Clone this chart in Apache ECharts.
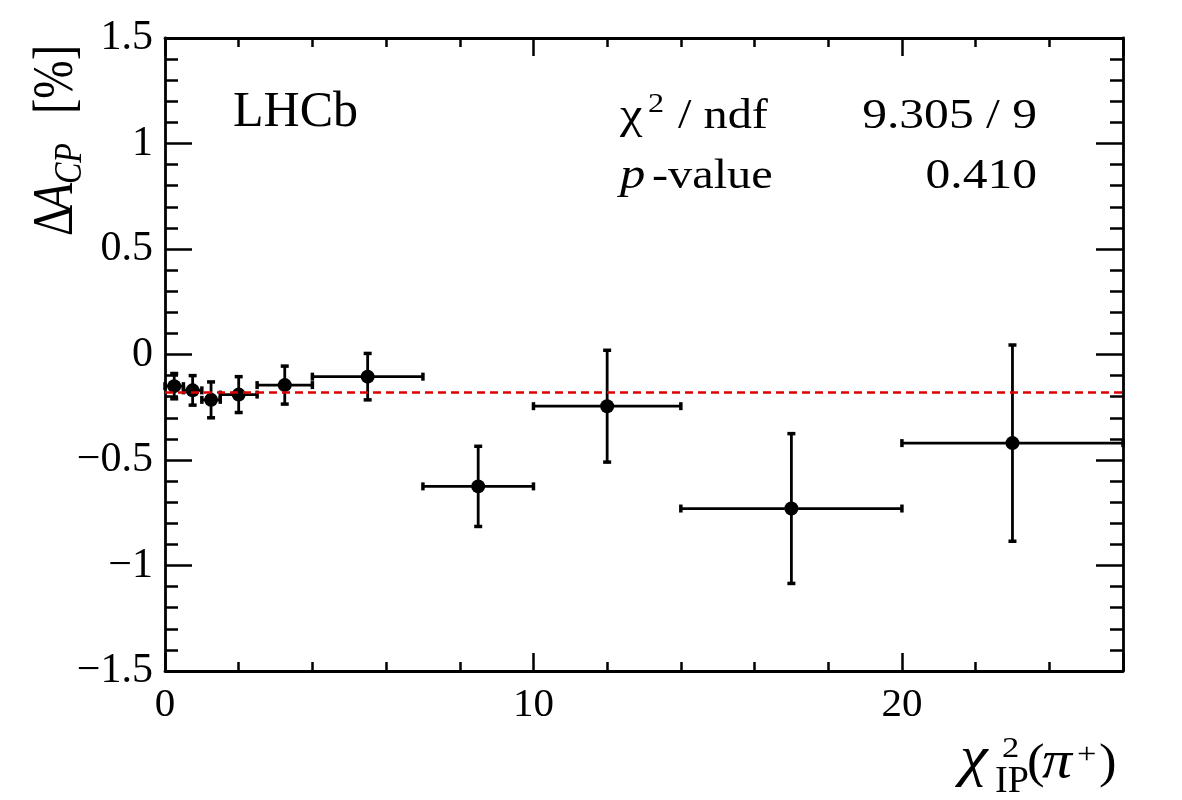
<!DOCTYPE html>
<html>
<head>
<meta charset="utf-8">
<script src="https://cdn.jsdelivr.net/npm/echarts@6/dist/echarts.min.js"></script>
<style>
  html, body { margin: 0; padding: 0; background: #fff; }
  #chart { width: 1182px; height: 800px; }
</style>
</head>
<body>
<div id="chart"></div>
<script>
// bin centres, bin edges and Delta A_CP values [%]
const xCentres = [0.25, 0.75, 1.25, 2.0, 3.25, 5.5, 8.5, 12, 17, 23];
const xLow     = [0, 0.5, 1.0, 1.5, 2.5, 4, 7, 10, 14, 20];
const xHigh    = [0.5, 1.0, 1.5, 2.5, 4, 7, 10, 14, 20, 26];
const dAcp     = [-0.15, -0.17, -0.215, -0.19, -0.145, -0.105, -0.625, -0.245, -0.73, -0.42];
const dAcpErr  = [0.06, 0.07, 0.085, 0.085, 0.09, 0.11, 0.19, 0.265, 0.355, 0.465];
const fitValue = -0.18;

const xTicks = [0, 10, 20];
const yTicks = [-1.5, -1, -0.5, 0, 0.5, 1, 1.5];

const FONT = '"Liberation Serif", "DejaVu Serif", serif';
const minus = v => String(v).replace('-', '\u2212');

const points = xCentres.map((x, i) => [x, dAcp[i], xLow[i], xHigh[i], dAcp[i] - dAcpErr[i], dAcp[i] + dAcpErr[i]]);

const chart = echarts.init(document.getElementById('chart'));

// baseline-positioned text helper
function txt(x, base, text, size, o = {}) {
  return {
    type: 'text',
    x: x,
    y: base - 0.3 * size,
    scaleX: o.sx || 1,
    style: {
      text: text,
      font: (o.italic ? 'italic ' : '') + size + 'px ' + FONT,
      fill: '#000',
      textAlign: o.align || 'left',
      textVerticalAlign: 'middle'
    }
  };
}

const lineOn = { show: true, onZero: false, lineStyle: { color: '#000', width: 2.8 } };
const lineOff = { show: false, onZero: false };
const tickStyle = { color: '#000', width: 2.5 };

function xAx(position, interval, len, showLine, labels) {
  return {
    type: 'value', min: 0, max: 26, interval: interval, position: position,
    axisLine: showLine ? lineOn : lineOff,
    axisTick: { show: true, inside: true, length: len, lineStyle: tickStyle },
    axisLabel: labels ? {
      show: true, margin: 14, color: '#000', fontSize: 41, fontFamily: FONT,
      formatter: v => (xTicks.indexOf(v) >= 0 ? minus(v) : '')
    } : { show: false },
    splitLine: { show: false }
  };
}

function yAx(position, labels) {
  return {
    type: 'value', min: -1.5, max: 1.5, interval: 0.5, position: position,
    axisLine: lineOn,
    axisTick: { show: true, inside: true, length: 27, lineStyle: tickStyle },
    minorTick: { show: true, splitNumber: 5, length: 13, lineStyle: tickStyle },
    axisLabel: labels ? {
      show: true, margin: 12, color: '#000', fontSize: 42, fontFamily: FONT,
      formatter: v => (yTicks.indexOf(v) >= 0 ? minus(v) : '')
    } : { show: false },
    splitLine: { show: false }
  };
}

const option = {
  animation: false,
  backgroundColor: '#fff',
  grid: { left: 165, right: 59, top: 38, bottom: 129 },
  xAxis: [
    xAx('bottom', 2, 9, true, true),
    xAx('bottom', 10, 18, false, false),
    xAx('top', 2, 9, true, false),
    xAx('top', 10, 18, false, false)
  ],
  yAxis: [yAx('left', true), yAx('right', false)],
  series: [
    {
      type: 'custom',
      xAxisIndex: 0, yAxisIndex: 0,
      data: points,
      encode: { x: 0, y: 1 },
      z: 2,
      renderItem: (params, api) => {
        const y = api.value(1);
        const l = api.coord([api.value(2), y]);
        const r = api.coord([api.value(3), y]);
        const lo = api.coord([api.value(0), api.value(4)]);
        const hi = api.coord([api.value(0), api.value(5)]);
        const st = { stroke: '#000', lineWidth: 2.8 };
        const cap = { stroke: '#000', lineWidth: 3.5 };
        const c = 4;
        return {
          type: 'group',
          children: [
            { type: 'line', shape: { x1: l[0], y1: l[1], x2: r[0], y2: r[1] }, style: st },
            { type: 'line', shape: { x1: lo[0], y1: lo[1], x2: hi[0], y2: hi[1] }, style: st },
            { type: 'line', shape: { x1: l[0], y1: l[1] - c, x2: l[0], y2: l[1] + c }, style: cap },
            { type: 'line', shape: { x1: r[0], y1: r[1] - c, x2: r[0], y2: r[1] + c }, style: cap },
            { type: 'line', shape: { x1: lo[0] - c, y1: lo[1], x2: lo[0] + c, y2: lo[1] }, style: cap },
            { type: 'line', shape: { x1: hi[0] - c, y1: hi[1], x2: hi[0] + c, y2: hi[1] }, style: cap }
          ]
        };
      }
    },
    {
      type: 'line',
      data: [],
      z: 3,
      markLine: {
        silent: true,
        symbol: 'none',
        label: { show: false },
        lineStyle: { color: '#dd0000', width: 2.5, type: [8, 5] },
        data: [{ yAxis: fitValue }]
      }
    },
    {
      type: 'scatter',
      data: xCentres.map((x, i) => [x, dAcp[i]]),
      symbol: 'circle',
      symbolSize: 14,
      itemStyle: { color: '#000', opacity: 1 },
      z: 4
    }
  ],
  graphic: [
    txt(233, 128, 'LHCb', 50),
    txt(620, 130, '\u03c7', 44, { sx: 1.15 }),
    txt(648, 113, '2', 28, { sx: 1.15 }),
    txt(678, 130, '/ ndf', 42, { sx: 1.15 }),
    txt(1037, 130, '9.305 / 9', 42, { sx: 1.18, align: 'right' }),
    txt(620, 190, 'p', 44, { sx: 1.15, italic: true }),
    txt(652, 190, '-value', 42, { sx: 1.15 }),
    txt(1037, 190, '0.410', 42, { sx: 1.18, align: 'right' }),
    // x axis title: chi^2_IP(pi+)
    txt(960, 777, '\u03c7', 56, { sx: 1.12, italic: true }),
    txt(1002, 758, '2', 30, { sx: 1.15 }),
    txt(995, 793, 'IP', 38, { sx: 1.0 }),
    txt(1027, 779, '(', 48, { sx: 1.1 }),
    txt(1042, 779, '\u03c0', 52, { sx: 1.15, italic: true }),
    txt(1077, 764, '+', 30, { sx: 1.15 }),
    txt(1099, 779, ')', 48, { sx: 1.1 }),
    // y axis title: Delta A_CP [%], reading bottom to top
    {
      type: 'group',
      x: 74, y: 236,
      rotation: Math.PI / 2,
      scaleY: 1.22,
      children: [
        txt(0, 0, '\u0394', 46),
        txt(25, 0, 'A', 46, { italic: true }),
        txt(52, 7, 'CP', 32, { italic: true }),
        txt(122, 0, '[%]', 46)
      ]
    }
  ]
};

chart.setOption(option);
</script>
</body>
</html>
